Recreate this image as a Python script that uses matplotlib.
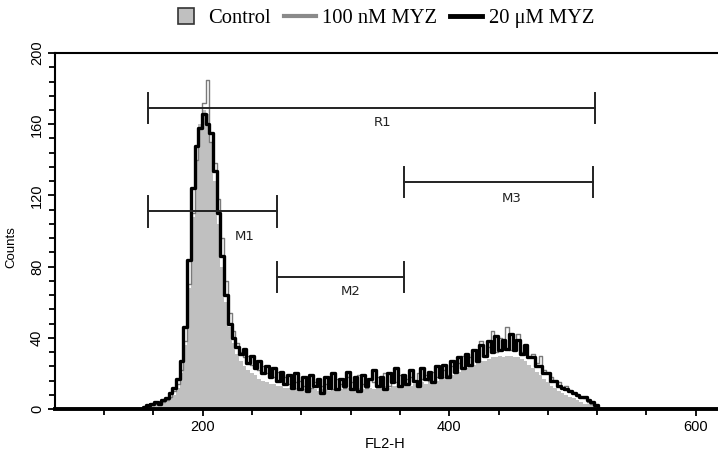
import numpy as np
import matplotlib
matplotlib.use("Agg")
import matplotlib.pyplot as plt
from matplotlib.lines import Line2D

# FL2-H channel bins (width 3, first bin at 150)
bin_start = 150
bin_width = 3

# counts per bin
control = [0, 0, 1, 2, 3, 4, 4, 5, 6, 8, 12, 20, 36, 68, 108, 140, 160, 168, 166, 150,
           128, 104, 80, 60, 46, 37, 31, 27, 24, 22, 20, 19, 17, 16, 15, 14, 14, 13, 13, 12,
           12, 11, 12, 11, 11, 10, 11, 11, 10, 11, 11, 10, 11, 10, 11, 11, 12, 11, 11, 12,
           11, 12, 12, 11, 12, 12, 13, 12, 13, 13, 12, 13, 14, 13, 14, 14, 15, 14, 15, 16,
           16, 17, 18, 18, 19, 20, 21, 22, 23, 24, 25, 26, 27, 27, 28, 29, 29, 30, 29, 30,
           30, 29, 29, 28, 27, 25, 23, 21, 19, 17, 15, 13, 12, 10, 9, 8, 7, 6, 5, 4,
           3, 3, 2, 1, 0]

myz_100nm = [0, 0, 1, 2, 3, 4, 4, 5, 7, 10, 14, 22, 38, 70, 110, 140, 158, 172, 185, 150,
             138, 118, 96, 72, 54, 44, 37, 32, 29, 30, 25, 27, 22, 24, 20, 21, 18, 21, 16, 18,
             14, 17, 15, 16, 13, 18, 12, 15, 17, 13, 14, 16, 11, 17, 14, 12, 18, 15, 13, 19,
             14, 12, 17, 15, 18, 14, 20, 13, 17, 15, 19, 14, 17, 18, 15, 20, 17, 19, 16, 21,
             18, 20, 22, 19, 24, 21, 26, 30, 25, 29, 33, 27, 38, 30, 35, 44, 32, 40, 34, 46,
             33, 36, 42, 32, 34, 29, 31, 26, 30, 22, 20, 18, 16, 15, 12, 13, 10, 9, 8, 7,
             6, 4, 3, 2, 0]

myz_20um = [0, 1, 2, 3, 4, 3, 5, 6, 9, 12, 17, 27, 46, 84, 124, 148, 158, 166, 160, 155,
            134, 110, 86, 64, 48, 40, 35, 31, 34, 26, 30, 23, 27, 20, 24, 18, 23, 16, 21, 14,
            19, 12, 20, 11, 18, 10, 19, 13, 17, 9, 18, 12, 20, 11, 17, 13, 21, 11, 18, 10,
            19, 13, 17, 22, 13, 18, 11, 20, 15, 23, 13, 19, 14, 22, 16, 13, 23, 17, 21, 15,
            24, 18, 25, 18, 27, 21, 29, 23, 31, 25, 33, 27, 36, 30, 38, 32, 41, 33, 39, 34,
            42, 33, 39, 31, 36, 29, 29, 24, 24, 20, 20, 16, 16, 13, 12, 11, 10, 9, 8, 7,
            7, 5, 4, 2, 0]

# gates
gate_names = ["R1", "M1", "M2", "M3"]
gate_lo = [156, 156, 260, 363]
gate_hi = [518, 260, 363, 517]
gate_y = [169, 111, 74, 127.5]

legend_labels = ["Control", "100 nM MYZ", "20 \u03bcM MYZ"]

x = bin_start + bin_width * np.arange(len(control))

fig = plt.figure(figsize=(7.18, 4.55), dpi=100)
ax = fig.add_axes([0.0766, 0.101, 0.9234, 0.7824])

ax.fill_between(x, control, step="mid", color="#c0c0c0", lw=0)
ax.step(x, myz_100nm, where="mid", color="#7a7a7a", lw=1.0)
ax.step(x, myz_20um, where="mid", color="black", lw=2.4)

# gate bars with end caps
cap = 8.5
for name, lo, hi, yy in zip(gate_names, gate_lo, gate_hi, gate_y):
    ax.plot([lo, hi], [yy, yy], color="#222222", lw=1.4)
    ax.plot([lo, lo], [yy - cap, yy + cap], color="#222222", lw=1.4)
    ax.plot([hi, hi], [yy - cap, yy + cap], color="#222222", lw=1.4)

label_x = [346, 234, 320, 451]
label_y = [161, 97, 66, 118.5]
for name, lx, ly in zip(gate_names, label_x, label_y):
    ax.text(lx, ly, name, ha="center", va="center", fontsize=9.5,
            family="DejaVu Sans", color="#222222")

ax.set_xlim(80.3, 618)
ax.set_ylim(0, 200)

ax.set_xticks([200, 400, 600])
ax.set_xticks(np.arange(120, 620, 40), minor=True)
ax.set_yticks(np.arange(0, 201, 40))
ax.set_yticks(np.arange(0, 201, 8), minor=True)
ax.set_yticklabels([str(v) for v in range(0, 201, 40)], rotation=90, va="center")

for lab in ax.get_xticklabels() + ax.get_yticklabels():
    lab.set_family("Liberation Sans")
    lab.set_fontsize(10.5)

ax.tick_params(which="major", length=5, width=1.3, direction="out", pad=3)
ax.tick_params(which="minor", length=4, width=1.3, direction="out")

ax.spines["right"].set_visible(False)
ax.spines["top"].set_linewidth(1.5)
ax.spines["left"].set_linewidth(1.5)
ax.spines["bottom"].set_linewidth(2.8)

ax.set_xlabel("FL2-H", family="Liberation Sans", fontsize=10.5)
ax.xaxis.set_label_coords(0.498, -0.079)
ax.set_ylabel("Counts", family="Liberation Sans", fontsize=9.5)
ax.yaxis.set_label_coords(-0.056, 0.455)

handles = [Line2D([], [], ls="none", marker="s", markersize=11,
                  markerfacecolor="#c0c0c0", markeredgecolor="#333333", markeredgewidth=1.2),
           Line2D([], [], color="#8a8a8a", lw=3),
           Line2D([], [], color="black", lw=3.5)]
fig.legend(handles, legend_labels, loc="center", bbox_to_anchor=(0.532, 0.96),
           ncol=3, frameon=False, prop={"family": "Liberation Serif", "size": 14.8},
           handlelength=1.55, handletextpad=0.3, columnspacing=0.65)

fig.savefig("out.png", dpi=100)
